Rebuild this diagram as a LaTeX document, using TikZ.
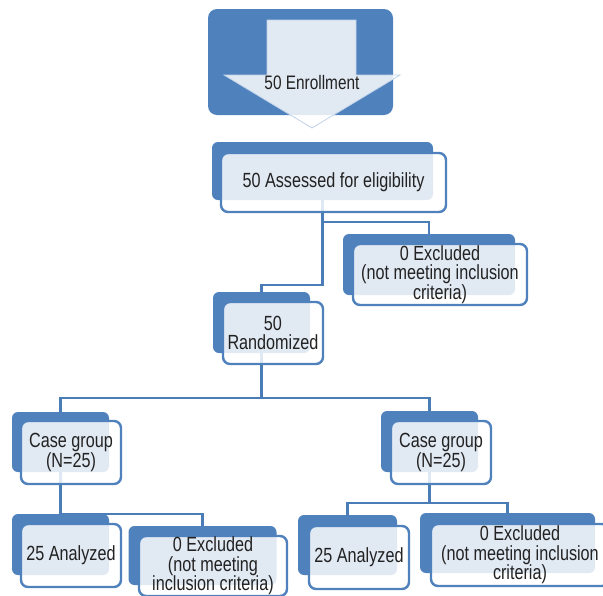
\documentclass[tikz,border=0pt]{standalone}
\usepackage{fontspec}
\setmainfont{Liberation Sans}[FakeStretch=0.79]
\usepackage{xcolor}
\usetikzlibrary{backgrounds}
\definecolor{boxblue}{HTML}{4F81BD}
\definecolor{lineblue}{HTML}{4A7DB8}
\definecolor{textgray}{HTML}{222222}
\tikzset{
    back-box/.style = {fill=boxblue, rectangle, rounded corners=6pt, inner sep=0pt},
    front-box/.style = {draw=boxblue, line width=2.4pt, fill=white, fill opacity=0.83, text opacity=1, rectangle, rounded corners=7pt, inner sep=0pt, align=center, text=textgray, font=\fontsize{20.5}{19.6}\selectfont},
    link/.style = {draw=lineblue, line width=2.5pt},
}
\begin{document}
\begin{tikzpicture}[x=1pt, y=-1pt]
\clip (0,0) rectangle (603,595);
% enrollment arrow
\node [back-box, minimum width=185pt, minimum height=106pt, rounded corners=9pt] (enrollB) at (300.5,62) {};
\draw [fill=white, fill opacity=0.83, draw=boxblue!35, line width=0.8pt]
    (267,20) -- (356,20) -- (356,75) -- (400,75) -- (312,128) -- (224,75) -- (267,75) -- cycle;
\node [text=textgray, font=\fontsize{19.5}{18}\selectfont] (enroll) at (312,83) {50 Enrollment};

% back boxes
\node [back-box, minimum width=221pt, minimum height=58pt] (assessB) at (322.5,171) {};
\node [back-box, minimum width=172pt, minimum height=61pt] (exclTopB) at (429,264.5) {};
\node [back-box, minimum width=97pt, minimum height=61pt] (randB) at (261.5,322.5) {};
\node [back-box, minimum width=97pt, minimum height=60pt] (case1B) at (60.5,442) {};
\node [back-box, minimum width=97pt, minimum height=61pt] (case2B) at (429.5,441.5) {};
\node [back-box, minimum width=97pt, minimum height=61pt] (ana1B) at (60.5,544.5) {};
\node [back-box, minimum width=148pt, minimum height=59pt] (excl1B) at (202.5,555.5) {};
\node [back-box, minimum width=99pt, minimum height=60pt] (ana2B) at (347.5,545) {};
\node [back-box, minimum width=175pt, minimum height=60pt] (excl2B) at (507.5,543) {};

% front boxes
\node [front-box, minimum width=225pt, minimum height=59pt] (assess) at (333.5,182.5) {50 Assessed for eligibility};
\node [front-box, minimum width=174pt, minimum height=61pt] (exclTop) at (440,274.5) {0 Excluded\\(not meeting inclusion\\criteria)};
\node [front-box, minimum width=100pt, minimum height=62pt] (rand) at (273,333) {50\\Randomized};
\node [front-box, minimum width=100pt, minimum height=63pt] (case1) at (71,452.5) {Case group\\(N=25)};
\node [front-box, minimum width=100pt, minimum height=63pt] (case2) at (441,452.5) {Case group\\(N=25)};
\node [front-box, minimum width=100pt, minimum height=63pt] (ana1) at (71,555.5) {25 Analyzed};
\node [front-box, minimum width=148pt, minimum height=60pt] (excl1) at (213,566) {0 Excluded\\(not meeting\\inclusion criteria)};
\node [front-box, minimum width=100pt, minimum height=63pt] (ana2) at (359,557.5) {25 Analyzed};
\node [front-box, minimum width=178pt, minimum height=62pt] (excl2) at (520,555) {0 Excluded\\(not meeting inclusion\\criteria)};

% connectors
\begin{pgfonlayer}{background}
\draw [link] (assessB.south) -- ++(0,22) -| (exclTopB.north);
\draw [link] (assessB.south) -- ++(0,85) -| (randB.north);
\draw [link] (randB.south) -- ++(0,45) -| (case1B.north);
\draw [link] (randB.south) -- ++(0,45) -| (case2B.north);
\draw [link] (case1B.south) -- (ana1B.north);
\draw [link] (case1B.south) -- ++(0,42) -| (excl1B.north);
\draw [link] (case2B.south) -- ++(0,31) -| (ana2B.north);
\draw [link] (case2B.south) -- ++(0,31) -| (excl2B.north);
\end{pgfonlayer}
\end{tikzpicture}
\end{document}
